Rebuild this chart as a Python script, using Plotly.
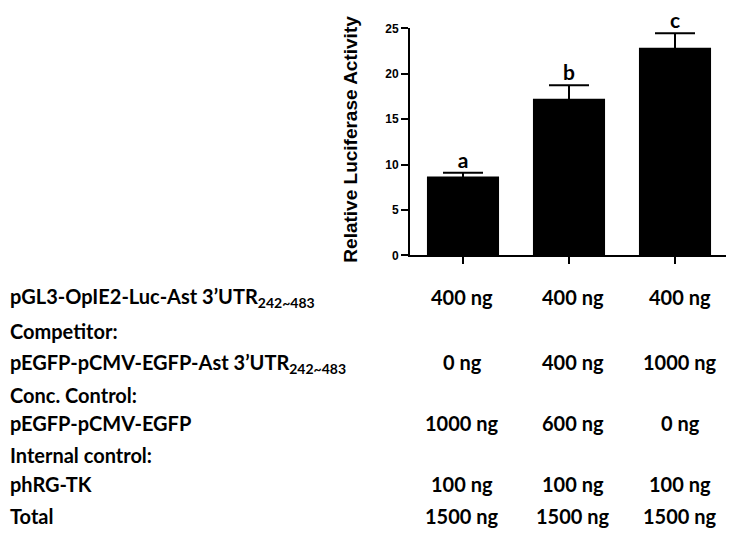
import plotly.graph_objects as go

# datos del grafico de barras
grupos = ["g1", "g2", "g3"]
actividad = [8.7, 17.25, 22.85]
error = [0.4, 1.5, 1.6]
letras = ["a", "b", "c"]

# tabla de condiciones bajo el grafico
etiquetas = [
    "pGL3-OpIE2-Luc-Ast 3’UTR<sub>242~483</sub>",
    "Competitor:",
    "pEGFP-pCMV-EGFP-Ast 3’UTR<sub>242~483</sub>",
    "Conc. Control:",
    "pEGFP-pCMV-EGFP",
    "Internal control:",
    "phRG-TK",
    "Total",
]
etiquetas_y = [298, 333, 366, 398, 427, 460, 490, 523]

pgl3 = [400, 400, 400]
competidor = [0, 400, 1000]
control_conc = [1000, 600, 0]
control_interno = [100, 100, 100]
total = [1500, 1500, 1500]
filas_valores = [pgl3, competidor, control_conc, control_interno, total]
filas_y = [298, 364, 427, 490, 523]
columnas_x = [462, 573, 680]

# la pagina tiene un margen de 8px en el body, asi que se descuenta
M = 8
W, H = 734 - M, 539 - M
fuente_tabla = "Lato"


def px(x):
    return (x - M) / W


def py(y):
    return 1 - (y - M) / H


fig = go.Figure()
fig.add_trace(go.Bar(
    x=grupos, y=actividad, width=0.68,
    marker=dict(color="black", line=dict(width=0)),
    error_y=dict(type="data", array=error, visible=True, color="black",
                 thickness=2, width=20),
    showlegend=False,
))

# letras de significancia encima de las barras de error
fig.add_trace(go.Scatter(
    x=grupos, y=[v + e for v, e in zip(actividad, error)], text=letras,
    mode="text", textposition="top center", cliponaxis=False, hoverinfo="skip",
    textfont=dict(family=fuente_tabla, size=21, color="black", weight="bold"),
    showlegend=False,
))

# etiquetas de la tabla (pegadas al borde izquierdo)
for t, yy in zip(etiquetas, etiquetas_y):
    fig.add_annotation(x=0, y=py(yy), xref="paper", yref="paper", text=t,
                       showarrow=False, xanchor="left", yanchor="middle",
                       font=dict(family=fuente_tabla, size=20, color="black", weight="bold"))

for fila, yy in zip(filas_valores, filas_y):
    for v, xx in zip(fila, columnas_x):
        fig.add_annotation(x=px(xx), y=py(yy), xref="paper", yref="paper",
                           text=f"{v} ng", showarrow=False, xanchor="center", yanchor="middle",
                           font=dict(family=fuente_tabla, size=20, color="black", weight="bold"))

# titulo del eje y
fig.add_annotation(x=px(351), y=py(136), xref="paper", yref="paper",
                   text="Relative Luciferase Activity", textangle=-90, showarrow=False,
                   xanchor="center", yanchor="middle",
                   font=dict(family="Liberation Sans", size=19, color="black", weight="bold"))

fig.update_layout(
    width=W, height=H, margin=dict(l=0, r=0, t=0, b=0),
    plot_bgcolor="white", paper_bgcolor="white",
    xaxis=dict(domain=[px(410), px(728)], range=[-0.5, 2.5], showticklabels=False,
               ticks="outside", ticklen=7, tickwidth=2, tickcolor="black",
               showline=True, linecolor="black", linewidth=2, showgrid=False, zeroline=False),
    yaxis=dict(domain=[py(255), py(21.7)], range=[0, 25], dtick=5,
               ticks="outside", ticklen=7, tickwidth=2, tickcolor="black",
               showline=True, linecolor="black", linewidth=2, showgrid=False, zeroline=False,
               tickfont=dict(family="Liberation Sans", size=12, color="black", weight="bold")),
)

fig.write_html("out.html")
